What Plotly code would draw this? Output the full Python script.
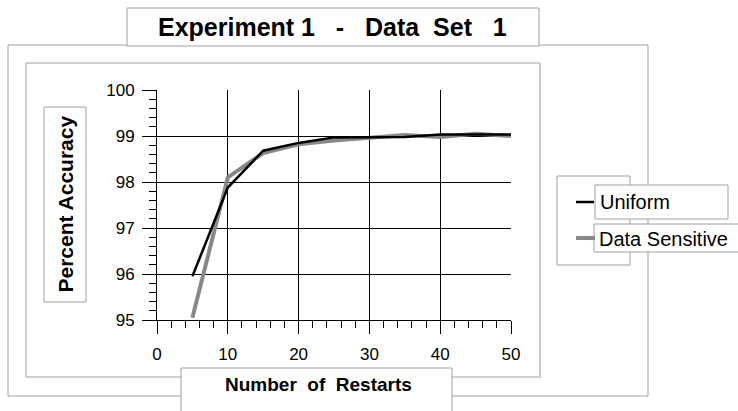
import plotly.graph_objects as go

# ---- data ----
restarts = [5, 10, 15, 20, 25, 30, 35, 40, 45, 50]
uniform = [95.95, 97.88, 98.68, 98.85, 98.97, 98.97, 98.98, 99.03, 99.03, 99.03]
data_sensitive = [95.05, 98.10, 98.63, 98.82, 98.90, 98.95, 99.02, 98.98, 99.05, 99.00]
x_ticks = [0, 10, 20, 30, 40, 50]
y_ticks = [95, 96, 97, 98, 99, 100]

W, H = 738, 411
L, R, T, B = 157, 511, 90, 320  # plot area in pixels

def X(p):
    return (p - L) / (R - L)

def Y(p):
    return (B - p) / (B - T)

FONT = "Arial, Liberation Sans, sans-serif"
BOX = "#a0a0a0"

fig = go.Figure()
fig.add_trace(go.Scatter(x=restarts, y=data_sensitive, mode="lines", name="Data Sensitive",
                         line=dict(color="#888888", width=4)))
fig.add_trace(go.Scatter(x=restarts, y=uniform, mode="lines", name="Uniform",
                         line=dict(color="black", width=2.5)))

shapes = []
def rect(x0, y0, x1, y1, fill=None, color=BOX, width=1):
    shapes.append(dict(type="rect", xref="paper", yref="paper",
                       x0=X(x0), x1=X(x1), y0=Y(y1), y1=Y(y0),
                       line=dict(color=color, width=width),
                       fillcolor=fill if fill else "rgba(0,0,0,0)"))
def line(x0, y0, x1, y1, color, width):
    shapes.append(dict(type="line", xref="paper", yref="paper",
                       x0=X(x0), x1=X(x1), y0=Y(y0), y1=Y(y1),
                       line=dict(color=color, width=width)))

rect(8, 45, 648, 396)
rect(26, 63, 540, 377)
line(540, 63, 540, 378, "#c8c8c8", 2)
rect(127, 8, 539, 46, fill="white")
rect(44, 107, 86, 302, fill="white")
rect(181, 368, 452, 420, fill="white")
rect(557, 176, 630, 265)
rect(595, 185, 728, 219, fill="white")
rect(594, 224, 745, 252, fill="white")
line(576, 202, 594, 202, "black", 2.5)
line(576, 238, 595, 238, "#888888", 4)

NB = "\u00a0"
ann = [
    dict(text="<b>Experiment 1" + NB * 3 + "-" + NB * 3 + "Data" + NB * 2 + "Set" + NB * 3 + "1</b>",
         x=X(332), y=Y(27), font=dict(size=25, color="black", family=FONT)),
    dict(text="<b>Percent Accuracy</b>", x=X(65), y=Y(204.5), textangle=-90,
         font=dict(size=21, color="black", family=FONT)),
    dict(text="<b>Number" + NB + " of" + NB + " Restarts</b>", x=X(318), y=Y(384),
         font=dict(size=19, color="black", family=FONT)),
    dict(text="Uniform", x=X(598), y=Y(202), xanchor="left",
         font=dict(size=20, color="black", family=FONT)),
    dict(text="Data Sensitive", x=X(597), y=Y(239), xanchor="left",
         font=dict(size=20, color="black", family=FONT)),
]
for a in ann:
    a.setdefault("xanchor", "center")
    a.update(xref="paper", yref="paper", showarrow=False, yanchor="middle")

fig.update_layout(
    width=W, height=H,
    margin=dict(l=L, r=W - R, t=T, b=H - B, pad=0),
    paper_bgcolor="white", plot_bgcolor="white",
    showlegend=False,
    font=dict(family=FONT, size=17, color="black"),
    shapes=shapes, annotations=ann,
    xaxis=dict(range=[0, 50], tickvals=x_ticks, ticktext=[str(v) for v in x_ticks],
               showgrid=True, gridcolor="black", gridwidth=1,
               showline=True, linecolor="black", linewidth=1,
               ticks="outside", ticklen=13, tickcolor="black", tickwidth=1,
               minor=dict(dtick=2, ticks="outside", ticklen=7, tickcolor="black", showgrid=False),
               zeroline=False, ticklabelstandoff=6, tickfont=dict(size=17)),
    yaxis=dict(range=[95, 100], tickvals=y_ticks, ticktext=[str(v) for v in y_ticks],
               showgrid=True, gridcolor="black", gridwidth=1,
               showline=True, linecolor="black", linewidth=1,
               ticks="outside", ticklen=14, tickcolor="black", tickwidth=1,
               minor=dict(dtick=0.2, ticks="outside", ticklen=7, tickcolor="black", showgrid=False),
               zeroline=False, ticklabelstandoff=4, tickfont=dict(size=17)),
)

fig.write_html("out.html")
